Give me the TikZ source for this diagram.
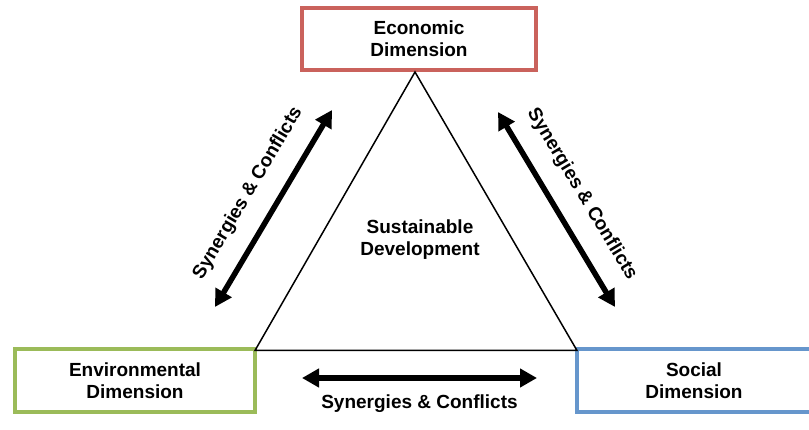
\documentclass[tikz,border=0pt]{standalone}
\usepackage{fontspec}
\setmainfont{Liberation Sans}
\usetikzlibrary{calc,arrows.meta}

\begin{document}
\begin{tikzpicture}[x=1pt,y=-1pt,>={Triangle[length=17pt,width=18pt]},
  dimbox/.style={draw, line width=4pt, fill=white, minimum width=234pt, minimum height=62pt, align=center, font=\fontsize{19}{22}\selectfont\bfseries},
  linkarrow/.style={<->, line width=5.5pt},
  linklabel/.style={font=\fontsize{19}{22}\selectfont\bfseries, inner sep=0pt}]
\useasboundingbox (0,0) rectangle (809,430);

\definecolor{ecored}{RGB}{202,98,92}
\definecolor{envgreen}{RGB}{155,187,89}
\definecolor{socblue}{RGB}{102,150,204}

\node[dimbox, draw=ecored] (economic) at (419,39) {Economic\\Dimension};
\node[dimbox, draw=envgreen, minimum width=240pt] (environ) at (135,380.5) {Environmental\\Dimension};
\node[dimbox, draw=socblue] (social) at (694,380.5) {Social\\Dimension};

\coordinate (T_top) at ($(economic.south)+(-4,0)$);
\coordinate (T_left) at ($(environ.north east)+(-2,3)$);
\coordinate (T_right) at ($(social.north west)+(2,3)$);
\draw[line width=1.5pt, line join=miter] (T_top) -- (T_left) -- (T_right) -- cycle;
\node[align=center, font=\fontsize{19}{22}\selectfont\bfseries] (sustain) at (420,240) {Sustainable\\Development};

\coordinate (A_envlo) at (215,307);
\coordinate (A_ecolo) at (332,110);
\coordinate (A_ecori) at (498,112);
\coordinate (A_socri) at (615,307);
\coordinate (A_envri) at (302,378);
\coordinate (A_socle) at (537,378);
\draw[linkarrow] (A_envlo) -- (A_ecolo) node[linklabel, midway, sloped, above=18pt] {Synergies \& Conflicts};
\draw[linkarrow] (A_ecori) -- (A_socri) node[linklabel, midway, sloped, above=18pt] {Synergies \& Conflicts};
\draw[linkarrow] (A_envri) -- (A_socle) node[linklabel, midway, below=14pt] {Synergies \& Conflicts};
\end{tikzpicture}
\end{document}
